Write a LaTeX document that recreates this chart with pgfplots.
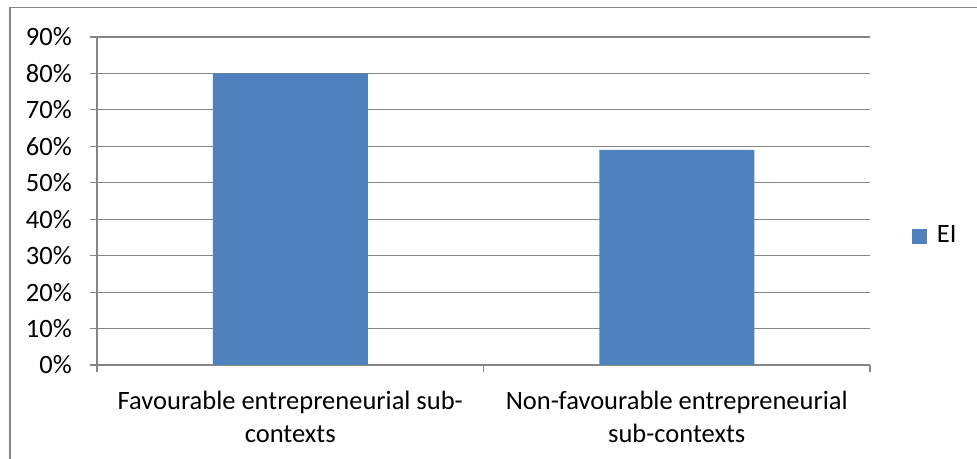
\documentclass[border=0pt]{standalone}
\usepackage{fontspec}
\setmainfont{Carlito}
\usepackage{pgfplots}
\pgfplotsset{compat=1.18}
\definecolor{EIblue}{HTML}{4F81BD}
\definecolor{gridgray}{HTML}{868686}
\begin{document}
\fontsize{26.5bp}{33bp}\selectfont
\begin{tikzpicture}[x=1bp,y=1bp]
\useasboundingbox (0,0) rectangle (977,459);
\draw[gridgray, line width=1.3bp] (10,-5) -- (10,451.7) -- (980,451.7);
\begin{axis}[
  at={(97bp,94bp)}, anchor=south west,
  scale only axis, width=773bp, height=328bp,
  xmin=0, xmax=2, ymin=0, ymax=90,
  axis lines=left, axis line style={-, gridgray, line width=1.2bp},
  ytick={0,10,...,90},
  yticklabels={0\%,10\%,20\%,30\%,40\%,50\%,60\%,70\%,80\%,90\%},
  ymajorgrids, grid style={gridgray, line width=1.2bp},
  xtick={0.5,1.5},
  xticklabels={{Favourable entrepreneurial sub-\\contexts},{Non-favourable entrepreneurial\\sub-contexts}},
  minor xtick={0,1,2},
  tick align=outside,
  major tick length=7bp, minor tick length=7bp,
  tick style={gridgray, line width=1.2bp},
  x tick style={draw=none},
  minor x tick style={draw=gridgray, line width=1.2bp},
  xminorgrids=false,
  yticklabel style={anchor=east, inner sep=0pt, xshift=-18bp, font=\fontsize{26.5bp}{33bp}\selectfont},
  xticklabel style={anchor=north, inner sep=0pt, align=center, yshift=-19bp, font=\fontsize{26.5bp}{33bp}\selectfont},
  ybar, bar width=155bp,
  legend style={draw=none, at={(1.054,0.393)}, anchor=west, inner sep=0pt,
     font=\fontsize{26.5bp}{33bp}\selectfont,
     /tikz/every odd column/.append style={column sep=8bp}},
  legend image code/.code={\fill[EIblue] (0bp,-7.5bp) rectangle (15bp,7.5bp);},
  legend cell align=left,
]
\addplot[fill=EIblue, draw=none] coordinates {(0.5,80) (1.5,59)};
\addlegendentry{EI}
\end{axis}
\end{tikzpicture}
\end{document}
